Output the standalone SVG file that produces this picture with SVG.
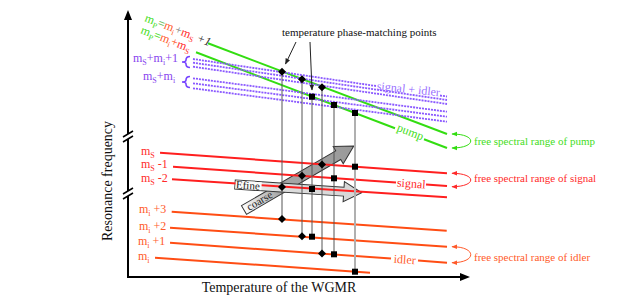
<svg xmlns="http://www.w3.org/2000/svg" width="617" height="298" viewBox="0 0 617 298">
<style>
text{font-family:"Liberation Serif","Times New Roman",serif}
.ax{stroke:#000;stroke-width:2;fill:none}
.g{stroke:#33dd11;stroke-width:2;fill:none}
.p{stroke:#8a58ff;stroke-width:1.8;stroke-dasharray:2 1;fill:none}
.r{stroke:#ff1f1f;stroke-width:2;fill:none}
.o{stroke:#ff4d14;stroke-width:2;fill:none}
.v{stroke:#555;stroke-width:1;fill:none}
.lbl{font-size:12px}
.fsr{font-size:11px}
.sub{font-size:8px}
</style>
<defs>
<marker id="mg" viewBox="0 0 10 10" refX="9" refY="5" markerWidth="6" markerHeight="6" orient="auto-start-reverse" markerUnits="userSpaceOnUse"><path d="M0,1 L10,5 L0,9 z" fill="#33dd11"/></marker>
<marker id="mr" viewBox="0 0 10 10" refX="9" refY="5" markerWidth="6" markerHeight="6" orient="auto-start-reverse" markerUnits="userSpaceOnUse"><path d="M0,1 L10,5 L0,9 z" fill="#ff2a2a"/></marker>
<marker id="mo" viewBox="0 0 10 10" refX="9" refY="5" markerWidth="6" markerHeight="6" orient="auto-start-reverse" markerUnits="userSpaceOnUse"><path d="M0,1 L10,5 L0,9 z" fill="#ff5a2a"/></marker>
<marker id="mk" viewBox="0 0 10 10" refX="9" refY="5" markerWidth="6" markerHeight="6" orient="auto" markerUnits="userSpaceOnUse"><path d="M0,1 L10,5 L0,9 z" fill="#222"/></marker>
<polygon id="dia" points="0,-4 4,0 0,4 -4,0" fill="#000"/>
<rect id="sq" x="-3" y="-3" width="6" height="6" fill="#000"/>
<linearGradient id="gc" x1="0" y1="0" x2="127" y2="0" gradientUnits="userSpaceOnUse">
<stop offset="0" stop-color="#ffffff"/><stop offset="0.3" stop-color="#a8a8a8"/><stop offset="1" stop-color="#999"/>
</linearGradient>
<linearGradient id="gf" x1="0" y1="0" x2="127" y2="0" gradientUnits="userSpaceOnUse">
<stop offset="0" stop-color="#ffffff"/><stop offset="0.3" stop-color="#dedede"/><stop offset="1" stop-color="#d6d6d6"/>
</linearGradient>
</defs>
<rect width="617" height="298" fill="#fff"/>

<g id="axes">
<line class="ax" x1="128" y1="277" x2="128" y2="18"/>
<polygon points="128,10 124,20 132,20" fill="#000"/>
<line class="ax" x1="127" y1="277" x2="462" y2="277"/>
<polygon points="470,277 460,273 460,281" fill="#000"/>
<rect x="125" y="134" width="6" height="5" fill="#fff"/>
<line x1="123" y1="137" x2="133" y2="131" stroke="#000" stroke-width="1.5"/>
<line x1="123" y1="142" x2="133" y2="136" stroke="#000" stroke-width="1.5"/>
<rect x="125" y="191" width="6" height="5" fill="#fff"/>
<line x1="123" y1="194" x2="133" y2="188" stroke="#000" stroke-width="1.5"/>
<line x1="123" y1="199" x2="133" y2="193" stroke="#000" stroke-width="1.5"/>
<text x="279" y="292" font-size="14" text-anchor="middle" fill="#111">Temperature of the WGMR</text>
<text transform="translate(112,181) rotate(-90)" font-size="14" text-anchor="middle" fill="#111">Resonance frequency</text>
</g>

<g id="arrows-block">
<g transform="translate(244,210) rotate(-30.2)">
<polygon points="0,-5 109,-5 109,-10 127,0 109,10 109,5 0,5" fill="url(#gc)" stroke="#333" stroke-width="1"/>
<text x="18" y="3.5" font-size="11" text-anchor="middle" fill="#222">coarse</text>
</g>
<g transform="translate(235,184.5) rotate(3.75)">
<polygon points="0,-4.5 109,-4.5 109,-10 127,0 109,10 109,4.5 0,4.5" fill="url(#gf)" stroke="#333" stroke-width="1"/>
</g>
</g>

<g id="pump-lines">
<line class="g" x1="208" y1="43.3" x2="447" y2="134"/>
<line class="g" x1="196" y1="52.3" x2="395" y2="128.3"/>
<line class="g" x1="424" y1="139.3" x2="447" y2="148"/>
<text transform="translate(409,135.5) rotate(21)" font-size="12" text-anchor="middle" fill="#44dd22">pump</text>
</g>

<g id="sum-lines">
<line class="p" x1="193" y1="59" x2="376" y2="86"/>
<line class="p" x1="440" y1="95.5" x2="447" y2="96.5"/>
<line class="p" x1="193" y1="62.7" x2="447" y2="100"/>
<line class="p" x1="193" y1="66.7" x2="447" y2="104"/>
<line class="p" x1="193" y1="78.3" x2="447" y2="111.7"/>
<line class="p" x1="193" y1="83.3" x2="447" y2="116.7"/>
<line class="p" x1="193" y1="88.3" x2="447" y2="121.7"/>
<text transform="translate(408,93) rotate(6)" font-size="12" text-anchor="middle" fill="#9a70ff">signal + idler</text>
</g>

<g id="signal-lines">
<line class="r" x1="160" y1="152.7" x2="447" y2="173.3"/>
<line class="r" x1="173" y1="166.7" x2="396" y2="182.4"/>
<line class="r" x1="426" y1="184.6" x2="447" y2="186"/>
<line class="r" x1="172" y1="179.3" x2="447" y2="197.3"/>
<text transform="translate(411,187.5) rotate(4)" font-size="12" text-anchor="middle" fill="#ff2a2a">signal</text>
</g>

<g id="idler-lines">
<line class="o" x1="171.7" y1="211.7" x2="446.7" y2="230.7"/>
<line class="o" x1="170" y1="227.7" x2="447" y2="246.7"/>
<line class="o" x1="170" y1="242.7" x2="391" y2="258.6"/>
<line class="o" x1="418" y1="260.6" x2="447" y2="262.7"/>
<line class="o" x1="155" y1="257.7" x2="370" y2="272.7"/>
<text transform="translate(404.5,263.5) rotate(4)" font-size="12" text-anchor="middle" fill="#ff5a2a">idler</text>
</g>

<g id="efine-label" transform="translate(235,184.5) rotate(3.75)">
<rect x="0.6" y="-4" width="26" height="8" fill="#fafafa"/>
<text x="1" y="3.8" font-size="11" fill="#222">Efine</text>
</g>

<g id="connectors">
<line class="v" x1="282" y1="71.7" x2="282" y2="219"/>
<line class="v" x1="302" y1="79.3" x2="302" y2="236.3"/>
<line class="v" x1="312" y1="96.7" x2="312" y2="236.7"/>
<line class="v" x1="322" y1="87.3" x2="322" y2="253.5"/>
<line class="v" x1="334" y1="105" x2="334" y2="254.3"/>
<line x1="355" y1="113" x2="355" y2="271.7" stroke="#b0b0b0" stroke-width="2"/>
<line x1="296" y1="42" x2="285.5" y2="64" stroke="#222" stroke-width="1" marker-end="url(#mk)"/>
<line x1="310" y1="42" x2="312" y2="90" stroke="#222" stroke-width="1" marker-end="url(#mk)"/>
<path d="M452,134 C477,134 477,148 452,148" fill="none" stroke="#33dd11" stroke-width="1" marker-start="url(#mg)" marker-end="url(#mg)"/>
<path d="M452,173.3 C477,173.3 477,186.7 452,186.7" fill="none" stroke="#ff2a2a" stroke-width="1" marker-start="url(#mr)" marker-end="url(#mr)"/>
<path d="M452,246.7 C477,246.7 477,262.7 452,262.7" fill="none" stroke="#ff5a2a" stroke-width="1" marker-start="url(#mo)" marker-end="url(#mo)"/>
</g>

<g id="points">
<use href="#dia" x="282" y="71.7"/><use href="#dia" x="302" y="79.3"/><use href="#dia" x="322" y="87.3"/>
<use href="#sq" x="312" y="96.7"/><use href="#sq" x="334" y="105"/><use href="#sq" x="355" y="113"/>
<use href="#dia" x="282" y="187"/><use href="#dia" x="302" y="175.8"/><use href="#dia" x="322" y="164.4"/>
<use href="#sq" x="312" y="189"/><use href="#sq" x="334" y="178.3"/><use href="#sq" x="355" y="166.7"/>
<use href="#dia" x="282" y="219"/><use href="#dia" x="302" y="236.3"/><use href="#dia" x="322" y="253.5"/>
<use href="#sq" x="312" y="236.7"/><use href="#sq" x="334" y="254.3"/><use href="#sq" x="355" y="271.7"/>
</g>

<g id="annotation">
<text x="282" y="35.5" font-size="11" fill="#111">temperature phase-matching points</text>
</g>

<g id="labels-pump">
<text transform="translate(144,21) rotate(21)" class="lbl"><tspan fill="#44dd22">m</tspan><tspan class="sub" dy="3" fill="#44dd22">P</tspan><tspan dy="-3" fill="#66bb55">=</tspan><tspan fill="#ff5a2a">m</tspan><tspan class="sub" dy="3" fill="#ff5a2a">i</tspan><tspan dy="-3" fill="#888">+</tspan><tspan fill="#ff2a2a">m</tspan><tspan class="sub" dy="3" fill="#ff2a2a">S</tspan><tspan dy="-3" fill="#333" font-style="italic"> +1</tspan></text>
<text transform="translate(140,33) rotate(21)" class="lbl"><tspan fill="#44dd22">m</tspan><tspan class="sub" dy="3" fill="#44dd22">P</tspan><tspan dy="-3" fill="#44dd22">=</tspan><tspan fill="#ff5a2a">m</tspan><tspan class="sub" dy="3" fill="#ff5a2a">i</tspan><tspan dy="-3" fill="#ff5a2a">+</tspan><tspan fill="#ff2a2a">m</tspan><tspan class="sub" dy="3" fill="#ff2a2a">S</tspan></text>
</g>

<g id="labels-sum" fill="#8844ee">
<text x="133" y="62" class="lbl">m<tspan class="sub" dy="3">S</tspan><tspan dy="-3">+m</tspan><tspan class="sub" dy="3">i</tspan><tspan dy="-3">+1</tspan></text>
<text x="143" y="80" class="lbl">m<tspan class="sub" dy="3">S</tspan><tspan dy="-3">+m</tspan><tspan class="sub" dy="3">i</tspan></text>
<path d="M190,56.5 Q186,56.5 186,60 Q186,62 182,62 Q186,62 186,64 Q186,67.5 190,67.5" fill="none" stroke="#7744ff" stroke-width="1.6"/>
<path d="M190,76.5 Q186,76.5 186,80 Q186,82 182,82 Q186,82 186,84 Q186,87.5 190,87.5" fill="none" stroke="#7744ff" stroke-width="1.6"/>
</g>

<g id="labels-signal" fill="#ff2a2a">
<text x="141" y="155" class="lbl">m<tspan class="sub" dy="3">S</tspan></text>
<text x="141" y="168" class="lbl">m<tspan class="sub" dy="3">S</tspan><tspan dy="-3"> -1</tspan></text>
<text x="141" y="182" class="lbl">m<tspan class="sub" dy="3">S</tspan><tspan dy="-3"> -2</tspan></text>
</g>

<g id="labels-idler" fill="#ff5a2a">
<text x="139" y="213" class="lbl">m<tspan class="sub" dy="3">i</tspan><tspan dy="-3"> +3</tspan></text>
<text x="139" y="229.5" class="lbl">m<tspan class="sub" dy="3">i</tspan><tspan dy="-3"> +2</tspan></text>
<text x="138" y="245" class="lbl">m<tspan class="sub" dy="3">i</tspan><tspan dy="-3"> +1</tspan></text>
<text x="138" y="259.5" class="lbl">m<tspan class="sub" dy="3">i</tspan></text>
</g>

<g id="fsr-labels">
<text x="474" y="144.5" class="fsr" fill="#44dd22">free spectral range of pump</text>
<text x="474" y="182" class="fsr" fill="#ff2a2a">free spectral range of signal</text>
<text x="474" y="261" class="fsr" fill="#ff5a2a">free spectral range of idler</text>
</g>
</svg>
